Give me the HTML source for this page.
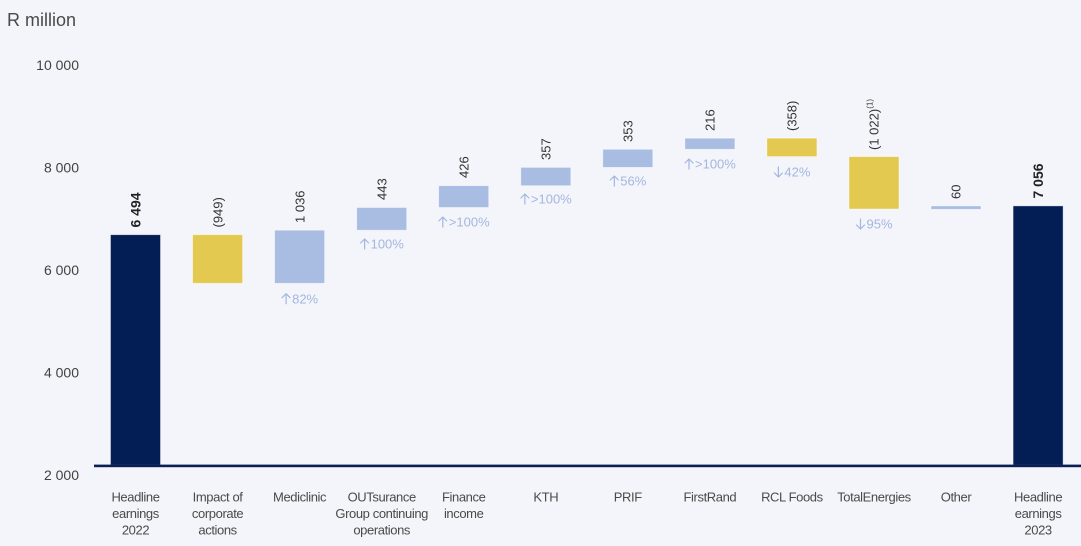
<!DOCTYPE html>
<html>
<head>
<meta charset="utf-8">
<style>
  html, body { margin: 0; padding: 0; background: #f4f5fa; }
  body { width: 1081px; height: 546px; overflow: hidden; }
  svg { display: block; }
  text { font-family: "Liberation Sans", "DejaVu Sans", sans-serif; }
  .yl { font-size: 14px; fill: #424242; text-anchor: end; }
  .cat { font-size: 13px; fill: #4a4a4a; text-anchor: middle; letter-spacing: -0.4px; }
  .val { font-size: 13px; fill: #333; }
  .valb { font-size: 14px; fill: #222; font-weight: bold; }
  .pct { font-size: 13px; fill: #a3b6df; }
  .arr { fill: none; stroke: #a3b6df; stroke-width: 1.2; stroke-linecap: round; stroke-linejoin: round; }
</style>
</head>
<body>
<svg width="1081" height="546" viewBox="0 0 1081 546" xmlns="http://www.w3.org/2000/svg">
  <rect x="0" y="0" width="1081" height="546" fill="#f4f5fa"/>

  <!-- Title -->
  <text x="7" y="26" style="font-size:18px;fill:#4a4a4a;">R million</text>

  <!-- Y axis labels -->
  <text class="yl" x="79" y="70">10 000</text>
  <text class="yl" x="79" y="172.5">8 000</text>
  <text class="yl" x="79" y="275">6 000</text>
  <text class="yl" x="79" y="377.5">4 000</text>
  <text class="yl" x="79" y="480">2 000</text>

  <!-- Bars -->
  <g stroke="#ffffff" stroke-opacity="0.5" stroke-width="0.8">
    <rect x="110.5" y="234.7" width="50" height="230.3" fill="#031d55"/>
    <rect x="192.6" y="234.7" width="50" height="48.6" fill="#e3c94f"/>
    <rect x="274.6" y="230.2" width="50" height="53.1" fill="#a9bce2"/>
    <rect x="356.7" y="207.5" width="50" height="22.7" fill="#a9bce2"/>
    <rect x="438.7" y="185.7" width="50" height="21.8" fill="#a9bce2"/>
    <rect x="520.8" y="167.4" width="50" height="18.3" fill="#a9bce2"/>
    <rect x="602.8" y="149.3" width="50" height="18.1" fill="#a9bce2"/>
    <rect x="684.9" y="138.2" width="50" height="11.1" fill="#a9bce2"/>
    <rect x="766.9" y="138.2" width="50" height="18.4" fill="#e3c94f"/>
    <rect x="849.0" y="156.6" width="50" height="52.4" fill="#e3c94f"/>
    <rect x="931.0" y="205.9" width="50" height="3.4" fill="#a9bce2"/>
    <rect x="1013.1" y="205.9" width="50" height="259.1" fill="#031d55"/>
  </g>

  <!-- Axis line -->
  <rect x="94" y="464.6" width="987" height="2.6" fill="#0a1f56"/>

  <!-- Value labels (rotated) -->
  <text class="valb" transform="translate(135.5,227.5) rotate(-90)" x="0" y="5">6 494</text>
  <text class="val" transform="translate(217.6,227.5) rotate(-90)" x="0" y="4.7">(949)</text>
  <text class="val" transform="translate(299.6,223) rotate(-90)" x="0" y="4.7">1 036</text>
  <text class="val" transform="translate(381.7,200) rotate(-90)" x="0" y="4.7">443</text>
  <text class="val" transform="translate(463.7,178) rotate(-90)" x="0" y="4.7">426</text>
  <text class="val" transform="translate(545.8,160) rotate(-90)" x="0" y="4.7">357</text>
  <text class="val" transform="translate(627.8,142) rotate(-90)" x="0" y="4.7">353</text>
  <text class="val" transform="translate(709.9,131) rotate(-90)" x="0" y="4.7">216</text>
  <text class="val" transform="translate(791.9,131) rotate(-90)" x="0" y="4.7">(358)</text>
  <text class="val" transform="translate(874,150) rotate(-90)" x="0" y="4.7">(1 022)<tspan dy="-6" style="font-size:8px">(1)</tspan></text>
  <text class="val" transform="translate(956,199) rotate(-90)" x="0" y="4.7">60</text>
  <text class="valb" transform="translate(1038.1,198.5) rotate(-90)" x="0" y="5">7 056</text>

  <!-- Percent labels: arrows drawn + text -->
  <!-- Mediclinic -->
  <path class="arr" d="M286.1,303.7 V293.7 M282.1,297.7 L286.1,293.7 L290.1,297.7"/>
  <text class="pct" x="292.1" y="303.4">82%</text>
  <!-- OUTsurance -->
  <path class="arr" d="M364.6,249 V239 M360.6,243 L364.6,239 L368.6,243"/>
  <text class="pct" x="370.6" y="248.7">100%</text>
  <!-- Finance income -->
  <path class="arr" d="M442.8,227 V217 M438.8,221 L442.8,217 L446.8,221"/>
  <text class="pct" x="448.8" y="226.7">&gt;100%</text>
  <!-- KTH -->
  <path class="arr" d="M524.9,204 V194 M520.9,198 L524.9,194 L528.9,198"/>
  <text class="pct" x="530.9" y="203.7">&gt;100%</text>
  <!-- PRIF -->
  <path class="arr" d="M614.3,186 V176 M610.3,180 L614.3,176 L618.3,180"/>
  <text class="pct" x="620.3" y="185.7">56%</text>
  <!-- FirstRand -->
  <path class="arr" d="M689,169 V159 M685,163 L689,159 L693,163"/>
  <text class="pct" x="695" y="168.7">&gt;100%</text>
  <!-- RCL Foods (down) -->
  <path class="arr" d="M778.4,167 V177 M774.4,173 L778.4,177 L782.4,173"/>
  <text class="pct" x="784.4" y="176.7">42%</text>
  <!-- TotalEnergies (down) -->
  <path class="arr" d="M860.5,219 V229 M856.5,225 L860.5,229 L864.5,225"/>
  <text class="pct" x="866.5" y="228.7">95%</text>

  <!-- Category labels -->
  <text class="cat" x="135.5" y="501.5">Headline</text>
  <text class="cat" x="135.5" y="518">earnings</text>
  <text class="cat" x="135.5" y="534.5">2022</text>

  <text class="cat" x="217.6" y="501.5">Impact of</text>
  <text class="cat" x="217.6" y="518">corporate</text>
  <text class="cat" x="217.6" y="534.5">actions</text>

  <text class="cat" x="299.6" y="501.5">Mediclinic</text>

  <text class="cat" x="381.7" y="501.5">OUTsurance</text>
  <text class="cat" x="381.7" y="518">Group continuing</text>
  <text class="cat" x="381.7" y="534.5">operations</text>

  <text class="cat" x="463.7" y="501.5">Finance</text>
  <text class="cat" x="463.7" y="518">income</text>

  <text class="cat" x="545.8" y="501.5">KTH</text>
  <text class="cat" x="627.8" y="501.5">PRIF</text>
  <text class="cat" x="709.9" y="501.5">FirstRand</text>
  <text class="cat" x="791.9" y="501.5">RCL Foods</text>
  <text class="cat" x="874" y="501.5">TotalEnergies</text>
  <text class="cat" x="956" y="501.5">Other</text>

  <text class="cat" x="1038.1" y="501.5">Headline</text>
  <text class="cat" x="1038.1" y="518">earnings</text>
  <text class="cat" x="1038.1" y="534.5">2023</text>
</svg>
</body>
</html>
